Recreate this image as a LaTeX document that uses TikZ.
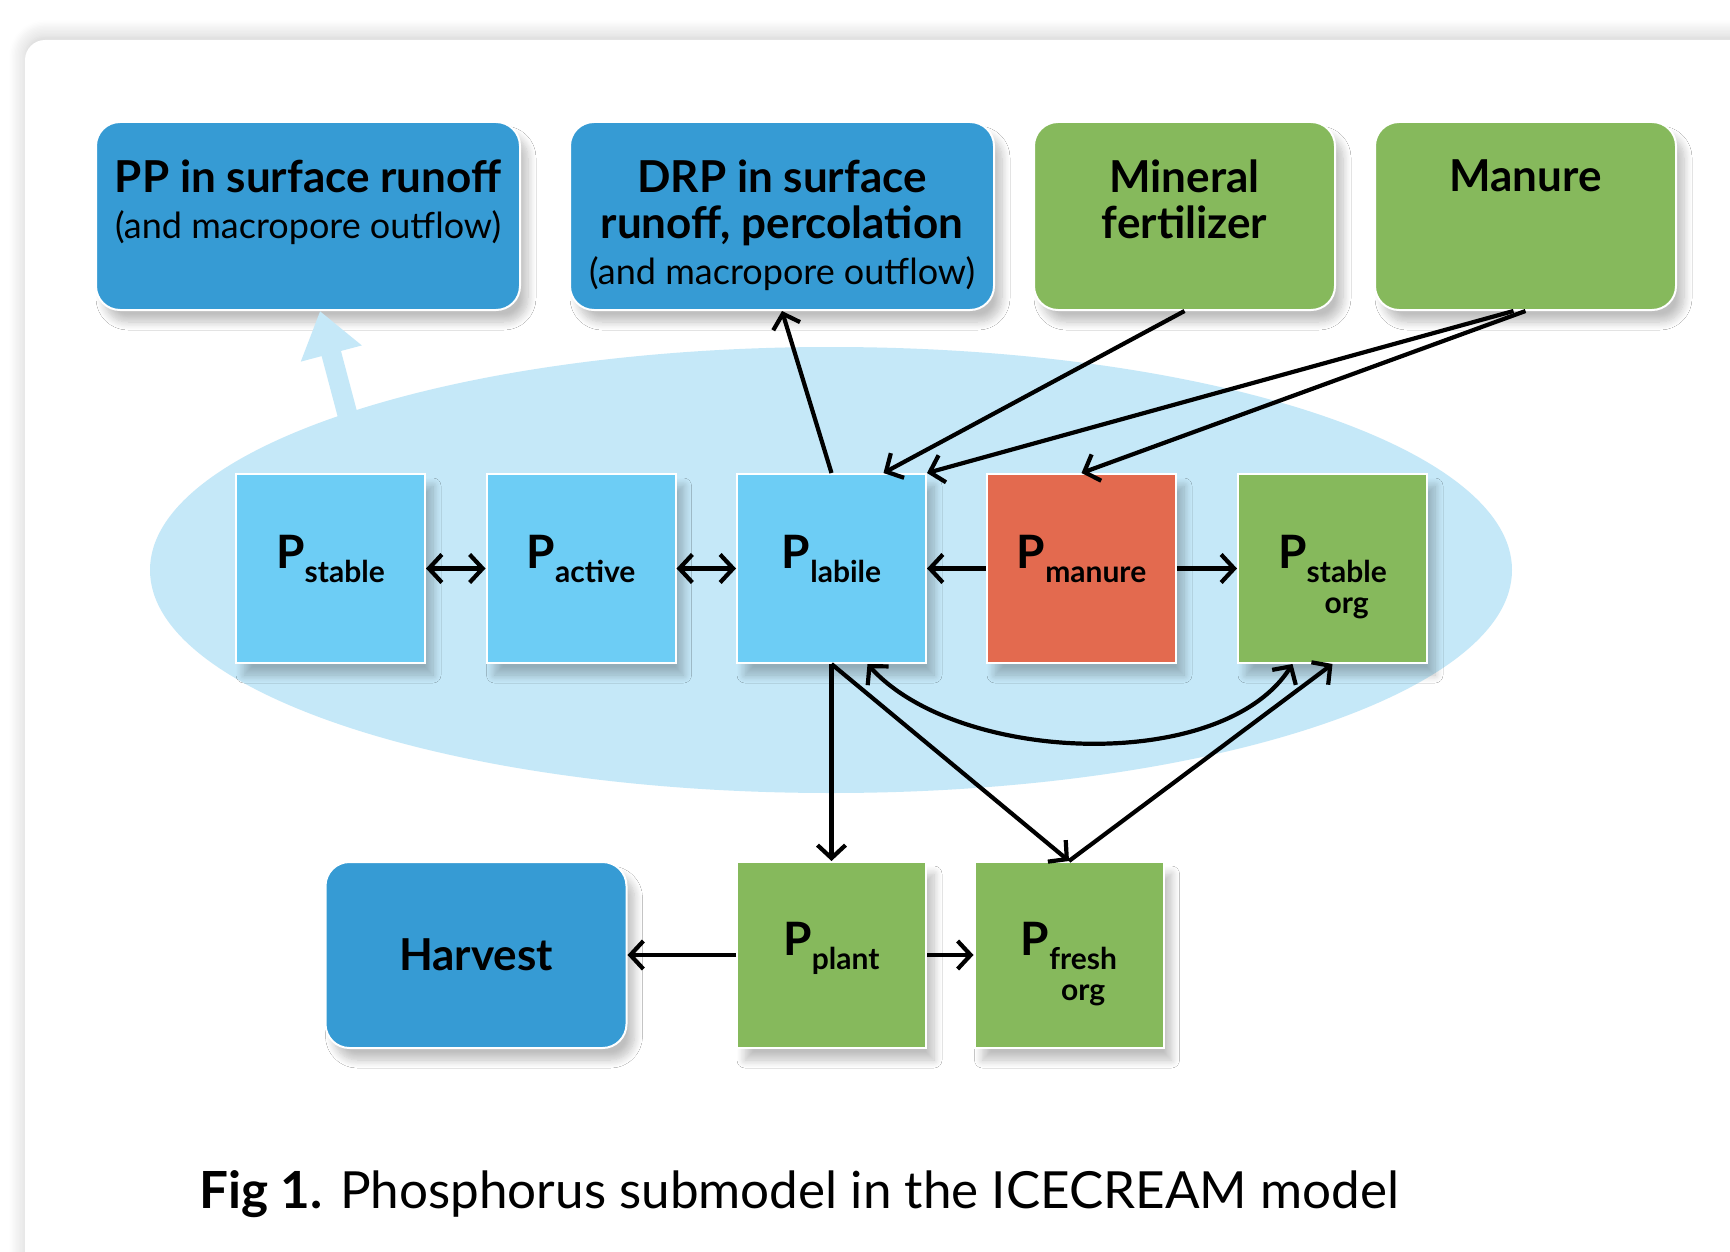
\documentclass[tikz,border=0pt]{standalone}
\usepackage{fontspec}
\setmainfont{Lato}
\usetikzlibrary{shapes.geometric, arrows.meta, shadows.blur}

\definecolor{deepblue}{HTML}{369BD4}
\definecolor{leafgreen}{HTML}{86B95C}
\definecolor{skyblue}{HTML}{6DCDF5}
\definecolor{brick}{HTML}{E36A4F}
\definecolor{soilblue}{HTML}{C5E8F8}

\newcommand{\pvar}[1]{P\raisebox{-7pt}{\fontsize{15}{15.5}\selectfont\begin{tabular}[t]{@{}c@{}}#1\end{tabular}}}
\newcommand{\softtext}{\mdseries\fontsize{18}{23}\selectfont}

\tikzset{
  box/.style={draw=white, line width=1pt, inner sep=0pt,
    blur shadow={shadow xshift=4pt, shadow yshift=-6pt, shadow blur radius=4pt,
      shadow blur steps=10, shadow opacity=25}},
  outbox/.style={box, rounded corners=12pt, minimum width=212pt, minimum height=94pt},
  inbox/.style={box, rounded corners=12pt, minimum width=150.5pt, minimum height=94pt},
  pool/.style={box, minimum width=94.5pt, minimum height=94.5pt,
    font=\fontsize{23}{24}\selectfont\bfseries, text height=12pt, text depth=12pt},
  boxtext/.style={anchor=north, align=center, inner sep=0pt, yshift=-19pt,
    font=\fontsize{22}{23}\selectfont\bfseries},
  flow/.style={line width=2.1pt, -{Straight Barb[length=6.5pt,width=14pt]}},
  twoway/.style={flow, {Straight Barb[length=6.5pt,width=14pt]}-{Straight Barb[length=6.5pt,width=14pt]}},
}

\begin{document}
\begin{tikzpicture}[x=0.5pt, y=-0.5pt]
\useasboundingbox (0,0) rectangle (1730,1252);

% card and soil
\path[fill=white, rounded corners=10pt,
  blur shadow={shadow xshift=0pt, shadow yshift=2pt, shadow blur radius=8pt,
    shadow blur steps=12, shadow opacity=20}]
  (25,40) rectangle (1790,1310);
\node[ellipse, fill=soilblue, minimum width=681pt, minimum height=223pt, inner sep=0pt] (soil) at (831,570) {};

% top row
\node[outbox, fill=deepblue] (pp) at (308,216) {};
\node[outbox, fill=deepblue] (drp) at (782,216) {};
\node[inbox, fill=leafgreen] (mineral) at (1184.5,216) {};
\node[inbox, fill=leafgreen] (manure) at (1525.5,216) {};
\node[boxtext] (pp-t) at (pp.north) {PP in surface runoff\\{\softtext (and macropore outflow)}};
\node[boxtext] (drp-t) at (drp.north) {DRP in surface\\runoff, percolation\\{\softtext (and macropore outflow)}};
\node[boxtext] (mineral-t) at (mineral.north) {Mineral\\fertilizer};
\node[boxtext] (manure-t) at (manure.north) {Manure};

% pools
\node[pool, fill=skyblue] (ps) at (330.5,568.5) {\pvar{stable}};
\node[pool, fill=skyblue] (pa) at (581,568.5) {\pvar{active}};
\node[pool, fill=skyblue] (pl) at (831.5,568.5) {\pvar{labile}};
\node[pool, fill=brick] (pm) at (1081.5,568.5) {\pvar{manure}};
\node[pool, fill=leafgreen] (pso) at (1332.5,568.5) {\pvar{stable\\org}};

% bottom row
\node[inbox, fill=deepblue, minimum height=93pt, font=\fontsize{22}{23}\selectfont\bfseries] (harvest) at (476,955) {Harvest};
\node[pool, fill=leafgreen, minimum height=93pt] (ppl) at (831.5,955) {\pvar{plant}};
\node[pool, fill=leafgreen, minimum height=93pt] (pf) at (1069,955) {\pvar{fresh\\org}};

\draw[soilblue, line width=10pt, -{Triangle[length=22pt,width=30pt]}, shorten <=-8pt] (soil.162) -- ([xshift=6pt]pp.south);

\draw[twoway] (ps.east) -- (pa.west);
\draw[twoway] (pa.east) -- (pl.west);
\draw[flow] (pm.west) -- (pl.east);
\draw[flow] (pm.east) -- (pso.west);
\draw[flow] (pl.north) -- (drp.south);
\draw[flow] (mineral.south) -- ([xshift=26pt]pl.north);
\draw[flow] ([xshift=-6pt]manure.south) -- (pl.north east);
\draw[flow] (manure.south) -- (pm.north);
\draw[flow] (pl.south) -- (ppl.north);
\draw[flow] (pl.south) -- (pf.north);
\draw[flow] (pf.north) -- (pso.south);
\draw[twoway] ([xshift=18pt]pl.south) .. controls +(45pt,-50pt) and +(-35pt,-55pt) .. ([xshift=-20pt]pso.south);
\draw[flow] (ppl.west) -- (harvest.east);
\draw[flow] (ppl.east) -- (pf.west);

\node[anchor=base west, inner sep=0pt, font=\fontsize{25.6}{30}\selectfont] (caption) at (199,1208)
  {\textbf{Fig 1.} Phosphorus submodel in the ICECREAM model};
\end{tikzpicture}
\end{document}
